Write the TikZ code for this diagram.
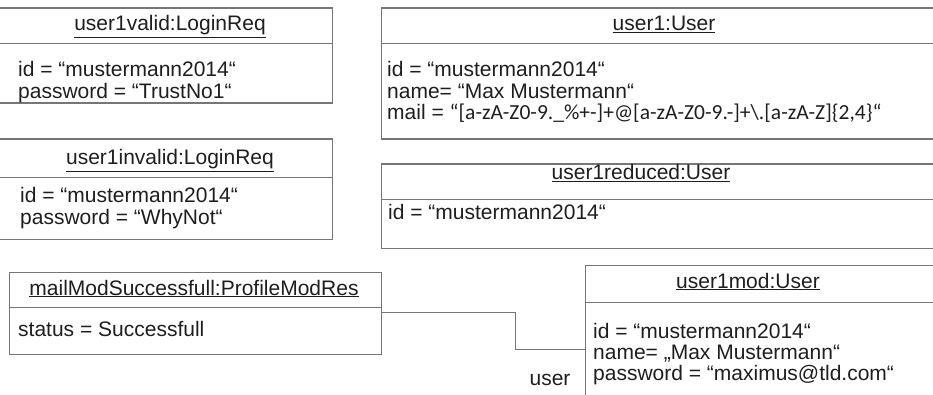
\documentclass[tikz,border=0pt]{standalone}
\usepackage{fontspec}
\setmainfont{Liberation Sans}
\newfontfamily\calib{Carlito}
\definecolor{linec}{HTML}{767676}
\definecolor{textc}{HTML}{1E1E1E}
\tikzset{
  objbox/.style={draw=linec, line width=1.3pt, rectangle, inner sep=0pt, anchor=north west},
  ttl/.style={anchor=base, inner sep=0pt, text=textc, font=\fontsize{21}{21.5}\selectfont},
  attr/.style={anchor=base west, inner sep=0pt, text=textc, font=\fontsize{21}{21.5}\selectfont},
  conn/.style={draw=linec, line width=1.3pt},
  divline/.style={draw=linec, line width=1.4pt}
}
\begin{document}
\begin{tikzpicture}[x=1pt,y=-1pt]
\useasboundingbox (0,0) rectangle (933,395);
\clip (0,0) rectangle (933,395);
% box 1: user1valid
\node[objbox, minimum width=334pt, minimum height=95pt] (b1) at (-2,7.5) {};
\draw[divline] (b1.west |- 0,43.5) -- (b1.east |- 0,43.5);
\node[ttl] (b1t) at (170,31) {\underline{user1valid:LoginReq}};
\node[attr] (b1a) at (18,77) {id = “mustermann2014“};
\node[attr] (b1c) at (18,98.5) {password = “TrustNo1“};
% box 2: user1
\node[objbox, minimum width=570pt, minimum height=131pt] (b2) at (380.5,7.5) {};
\draw[divline] (b2.west |- 0,43.5) -- (b2.east |- 0,43.5);
\node[ttl] (b2t) at (664,31) {\underline{user1:User}};
\node[attr] (b2a) at (387,77) {id = “mustermann2014“};
\node[attr] (b2c) at (387,98.5) {name= “Max Mustermann“};
\node[attr] (b2d) at (387,120) {mail = {\calib\fontsize{21.5}{22}\selectfont“[a-zA-Z0-9.\_\%+-]+@[a-zA-Z0-9.-]+\textbackslash.[a-zA-Z]\{2,4\}“}};
% box 3: user1invalid
\node[objbox, minimum width=334pt, minimum height=100pt] (b3) at (-2,138.5) {};
\draw[divline] (b3.west |- 0,177.5) -- (b3.east |- 0,177.5);
\node[ttl] (b3t) at (170,165) {\underline{user1invalid:LoginReq}};
\node[attr] (b3a) at (20,203) {id = “mustermann2014“};
\node[attr] (b3c) at (20,224.5) {password = “WhyNot“};
% box 4: user1reduced
\node[objbox, minimum width=570pt, minimum height=84pt] (b4) at (380.5,163.5) {};
\draw[divline] (b4.west |- 0,199.5) -- (b4.east |- 0,199.5);
\node[ttl] (b4t) at (641,180) {\underline{user1reduced:User}};
\node[attr] (b4a) at (388,220) {id = “mustermann2014“};
% box 5: mailModSuccessfull
\node[objbox, minimum width=372pt, minimum height=82pt] (b5) at (8.5,271.5) {};
\draw[divline] (b5.west |- 0,307.5) -- (b5.east |- 0,307.5);
\node[ttl] (b5t) at (194,295) {\underline{mailModSuccessfull:ProfileModRes}};
\node[attr] (b5a) at (18,336) {status = Successfull};
% box 6: user1mod
\node[objbox, minimum width=366pt, minimum height=148pt] (b6) at (584.5,264.5) {};
\draw[divline] (b6.west |- 0,302.5) -- (b6.east |- 0,302.5);
\node[ttl] (b6t) at (748,288) {\underline{user1mod:User}};
\node[attr] (b6a) at (593,338) {id = “mustermann2014“};
\node[attr] (b6c) at (593,359) {name= „Max Mustermann“};
\node[attr] (b6d) at (593,380) {password = “maximus@tld.com“};
% connector
\coordinate (p1) at (b5.east |- 0,312.5);
\coordinate (p2) at (b6.west |- 0,349.5);
\draw[conn] (p1) -- (515.5,312.5) -- (515.5,349.5) -- (p2);
\node[ttl] (lbl) at (550,385) {user};
\end{tikzpicture}
\end{document}
